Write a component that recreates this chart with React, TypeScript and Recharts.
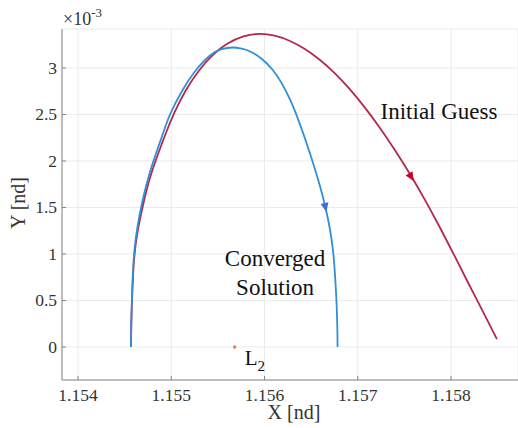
import React from "react"
import { LineChart, Line, XAxis, YAxis, CartesianGrid, ReferenceDot } from "recharts"

const CHART_WIDTH = 518
const CHART_HEIGHT = 428
const FONT = '"Liberation Serif", "Times New Roman", serif'

// tick values (y is in units of 1e-3)
const xTicks = [1.154, 1.155, 1.156, 1.157, 1.158]
const yTicks = [0, 0.5, 1, 1.5, 2, 2.5, 3]

// initial guess trajectory
const guessX = [
  1.154567, 1.154572, 1.154583, 1.154599, 1.154631, 1.154674, 1.154727, 1.154791,
  1.154866, 1.154947, 1.155037, 1.155155, 1.155294, 1.155444, 1.155604, 1.155775,
  1.155947, 1.156107, 1.156267, 1.156428, 1.156588, 1.156749, 1.156909, 1.15707,
  1.15723, 1.15739, 1.157551, 1.157711, 1.157872, 1.158032, 1.158193, 1.158353, 1.158492,
]
const guessY = [
  0, 0.29, 0.613, 0.914, 1.194, 1.419, 1.656, 1.882, 2.097, 2.312, 2.527, 2.758, 2.968,
  3.138, 3.262, 3.34, 3.366, 3.347, 3.293, 3.206, 3.091, 2.948, 2.777, 2.582, 2.366,
  2.13, 1.874, 1.598, 1.301, 0.99, 0.672, 0.358, 0.085,
]

// converged solution trajectory
const convergedX = [
  1.154567, 1.154572, 1.154581, 1.154595, 1.15462, 1.154658, 1.154706, 1.154765,
  1.154834, 1.154909, 1.154989, 1.155112, 1.155251, 1.155412, 1.15554, 1.155658,
  1.155754, 1.15584, 1.155968, 1.156086, 1.156182, 1.156278, 1.156342, 1.156428,
  1.156513, 1.156588, 1.156652, 1.156703, 1.156738, 1.156759, 1.156773, 1.156781, 1.156783,
]
const convergedY = [
  0, 0.29, 0.613, 0.914, 1.172, 1.409, 1.634, 1.86, 2.075, 2.29, 2.505, 2.747, 2.959,
  3.131, 3.202, 3.22, 3.208, 3.18, 3.099, 2.981, 2.84, 2.651, 2.495, 2.258, 2.0, 1.753,
  1.505, 1.258, 1.0, 0.72, 0.452, 0.183, 0,
]

const l2Point = { x: 1.15568, y: 0 }
const guessArrow = { x: 1.157572, y: 1.83 }
const convergedArrow = { x: 1.156652, y: 1.505 }
const guessLabel = { x: 1.157871, y: 2.538 }
const convergedLabel = { x: 1.156113, y: 0.796 }

const guessData = guessX.map((x, i) => ({ x, y: guessY[i] }))
const convergedData = convergedX.map((x, i) => ({ x, y: convergedY[i] }))

const BLUE = "#2f8fd8"
const RED = "#b3294b"
const AXIS = "#858585"
const TEXT = "#333333"

const XTick = (props: any) => {
  const { x, y, payload } = props
  return (
    <g>
      <line x1={x} y1={y} x2={x} y2={y - 4} stroke={AXIS} />
      <text
        x={x}
        y={y + 21}
        textAnchor="middle"
        fontFamily={FONT}
        fontSize={17.5}
        fill={TEXT}
        style={{ fontFamily: FONT }}
      >
        {payload.value.toFixed(3)}
      </text>
    </g>
  )
}

const YTick = (props: any) => {
  const { x, y, payload } = props
  return (
    <g>
      <line x1={x} y1={y} x2={x + 4} y2={y} stroke={AXIS} />
      <text
        x={x - 5}
        y={y + 6}
        textAnchor="end"
        fontFamily={FONT}
        fontSize={17.5}
        fill={TEXT}
        style={{ fontFamily: FONT }}
      >
        {String(payload.value)}
      </text>
    </g>
  )
}

const makeArrow = (angle: number, color: string) => (props: any) => {
  const { cx, cy } = props
  return (
    <polygon
      points="5,0 -4,-4 -4,4"
      fill={color}
      transform={`translate(${cx},${cy}) rotate(${angle})`}
    />
  )
}

const makeText = (lines: string[], size: number) => (props: any) => {
  const { cx, cy } = props
  const lh = size * 1.25
  const top = cy - ((lines.length - 1) * lh) / 2
  return (
    <text textAnchor="middle" fontSize={size} fill="#111" style={{ fontFamily: FONT }}>
      {lines.map((t, i) => (
        <tspan key={t} x={cx} y={top + i * lh + size * 0.33}>
          {t}
        </tspan>
      ))}
    </text>
  )
}

const L2Shape = (props: any) => {
  const { cx, cy } = props
  return (
    <g>
      <circle cx={cx} cy={cy} r={1.8} fill="#f07d4c" />
      <text x={cx + 10} y={cy + 18} fontSize={21} fill="#111" style={{ fontFamily: FONT }}>
        L
        <tspan dy={6} fontSize={15}>
          2
        </tspan>
      </text>
    </g>
  )
}

const YLabel = () => {
  const cy = 203
  return (
    <g>
      <text
        x={20}
        y={cy}
        transform={`rotate(-90, 20, ${cy})`}
        textAnchor="middle"
        dominantBaseline="middle"
        fontFamily={FONT}
        fontSize={20}
        fill={TEXT}
        style={{ fontFamily: FONT }}
      >
        Y [nd]
      </text>
      <text x={63} y={25} fontFamily={FONT} fontSize={18} fill={TEXT} style={{ fontFamily: FONT }}>
        ×10
        <tspan dy={-8} fontSize={13}>
          -3
        </tspan>
      </text>
    </g>
  )
}

const XLabel = (props: any) => {
  const { viewBox } = props
  return (
    <text
      x={viewBox.x + viewBox.width / 2 + 4}
      y={419}
      textAnchor="middle"
      fontFamily={FONT}
      fontSize={20}
      fill={TEXT}
      style={{ fontFamily: FONT }}
    >
      X [nd]
    </text>
  )
}

export default function App() {
  return (
    <div
      style={{
        position: "absolute",
        left: 0,
        top: 0,
        width: CHART_WIDTH,
        height: CHART_HEIGHT,
        background: "#fff",
        fontFamily: FONT,
      }}
    >
      <LineChart
        width={CHART_WIDTH}
        height={CHART_HEIGHT}
        margin={{ top: 29, right: 0, bottom: 0, left: 0 }}
      >
        <CartesianGrid stroke="#ebebeb" strokeWidth={1} />
        <XAxis
          type="number"
          dataKey="x"
          domain={[1.153828, 1.158718]}
          ticks={xTicks}
          allowDataOverflow
          height={48}
          tickSize={0}
          tickMargin={0}
          tickLine={false}
          axisLine={{ stroke: AXIS }}
          tick={<XTick />}
          label={{ content: <XLabel /> }}
        />
        <YAxis
          type="number"
          dataKey="y"
          domain={[-0.355, 3.419]}
          ticks={yTicks}
          allowDataOverflow
          width={62}
          tickSize={0}
          tickMargin={0}
          tickLine={false}
          axisLine={{ stroke: AXIS }}
          tick={<YTick />}
          label={{ content: <YLabel /> }}
        />
        <Line
          data={guessData}
          dataKey="y"
          type="natural"
          stroke={RED}
          strokeWidth={1.8}
          dot={false}
          activeDot={false}
          isAnimationActive={false}
        />
        <Line
          data={convergedData}
          dataKey="y"
          type="natural"
          stroke={BLUE}
          strokeWidth={1.8}
          dot={false}
          activeDot={false}
          isAnimationActive={false}
        />
        <ReferenceDot x={guessArrow.x} y={guessArrow.y} shape={makeArrow(59, "#c8001e")} />
        <ReferenceDot x={convergedArrow.x} y={convergedArrow.y} shape={makeArrow(78, "#3d6fd0")} />
        <ReferenceDot x={l2Point.x} y={l2Point.y} shape={L2Shape} />
        <ReferenceDot x={guessLabel.x} y={guessLabel.y} shape={makeText(["Initial Guess"], 23)} />
        <ReferenceDot
          x={convergedLabel.x}
          y={convergedLabel.y}
          shape={makeText(["Converged", "Solution"], 23)}
        />
      </LineChart>
    </div>
  )
}
